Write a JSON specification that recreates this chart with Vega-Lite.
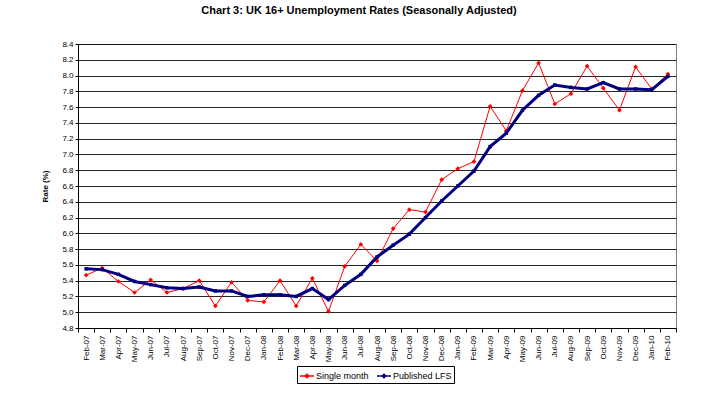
{
  "$schema": "https://vega.github.io/schema/vega-lite/v6.json",
  "width": 598,
  "height": 284,
  "autosize": {"type": "none"},
  "padding": {"left": 78, "top": 44, "right": 42, "bottom": 69},
  "background": "white",
  "title": {
    "text": "Chart 3: UK 16+ Unemployment Rates (Seasonally Adjusted)",
    "font": "Liberation Sans",
    "fontSize": 11,
    "fontWeight": "bold",
    "color": "#000000",
    "anchor": "middle",
    "dx": -18,
    "offset": 24
  },
  "config": {
    "font": "Liberation Sans",
    "view": {"stroke": "#808080", "strokeWidth": 1},
    "axis": {
      "labelFont": "Liberation Sans",
      "titleFont": "Liberation Sans",
      "labelColor": "#000000",
      "titleColor": "#000000",
      "domainColor": "#000000",
      "tickColor": "#000000"
    }
  },
  "data": {
    "values": [
      {"month": "Feb-07", "series": "Single month", "rate": 5.47},
      {"month": "Mar-07", "series": "Single month", "rate": 5.56},
      {"month": "Apr-07", "series": "Single month", "rate": 5.39},
      {"month": "May-07", "series": "Single month", "rate": 5.25},
      {"month": "Jun-07", "series": "Single month", "rate": 5.41},
      {"month": "Jul-07", "series": "Single month", "rate": 5.25},
      {"month": "Aug-07", "series": "Single month", "rate": 5.30},
      {"month": "Sep-07", "series": "Single month", "rate": 5.40},
      {"month": "Oct-07", "series": "Single month", "rate": 5.08},
      {"month": "Nov-07", "series": "Single month", "rate": 5.38},
      {"month": "Dec-07", "series": "Single month", "rate": 5.15},
      {"month": "Jan-08", "series": "Single month", "rate": 5.13},
      {"month": "Feb-08", "series": "Single month", "rate": 5.40},
      {"month": "Mar-08", "series": "Single month", "rate": 5.08},
      {"month": "Apr-08", "series": "Single month", "rate": 5.43},
      {"month": "May-08", "series": "Single month", "rate": 5.01},
      {"month": "Jun-08", "series": "Single month", "rate": 5.58},
      {"month": "Jul-08", "series": "Single month", "rate": 5.86},
      {"month": "Aug-08", "series": "Single month", "rate": 5.65},
      {"month": "Sep-08", "series": "Single month", "rate": 6.06},
      {"month": "Oct-08", "series": "Single month", "rate": 6.30},
      {"month": "Nov-08", "series": "Single month", "rate": 6.27},
      {"month": "Dec-08", "series": "Single month", "rate": 6.68},
      {"month": "Jan-09", "series": "Single month", "rate": 6.82},
      {"month": "Feb-09", "series": "Single month", "rate": 6.91},
      {"month": "Mar-09", "series": "Single month", "rate": 7.61},
      {"month": "Apr-09", "series": "Single month", "rate": 7.30},
      {"month": "May-09", "series": "Single month", "rate": 7.81},
      {"month": "Jun-09", "series": "Single month", "rate": 8.16},
      {"month": "Jul-09", "series": "Single month", "rate": 7.64},
      {"month": "Aug-09", "series": "Single month", "rate": 7.77},
      {"month": "Sep-09", "series": "Single month", "rate": 8.12},
      {"month": "Oct-09", "series": "Single month", "rate": 7.84},
      {"month": "Nov-09", "series": "Single month", "rate": 7.56},
      {"month": "Dec-09", "series": "Single month", "rate": 8.11},
      {"month": "Jan-10", "series": "Single month", "rate": 7.83},
      {"month": "Feb-10", "series": "Single month", "rate": 8.02},
      {"month": "Feb-07", "series": "Published LFS", "rate": 5.55},
      {"month": "Mar-07", "series": "Published LFS", "rate": 5.54},
      {"month": "Apr-07", "series": "Published LFS", "rate": 5.48},
      {"month": "May-07", "series": "Published LFS", "rate": 5.39},
      {"month": "Jun-07", "series": "Published LFS", "rate": 5.35},
      {"month": "Jul-07", "series": "Published LFS", "rate": 5.31},
      {"month": "Aug-07", "series": "Published LFS", "rate": 5.30},
      {"month": "Sep-07", "series": "Published LFS", "rate": 5.32},
      {"month": "Oct-07", "series": "Published LFS", "rate": 5.27},
      {"month": "Nov-07", "series": "Published LFS", "rate": 5.27},
      {"month": "Dec-07", "series": "Published LFS", "rate": 5.20},
      {"month": "Jan-08", "series": "Published LFS", "rate": 5.22},
      {"month": "Feb-08", "series": "Published LFS", "rate": 5.22},
      {"month": "Mar-08", "series": "Published LFS", "rate": 5.20},
      {"month": "Apr-08", "series": "Published LFS", "rate": 5.30},
      {"month": "May-08", "series": "Published LFS", "rate": 5.16},
      {"month": "Jun-08", "series": "Published LFS", "rate": 5.34},
      {"month": "Jul-08", "series": "Published LFS", "rate": 5.48},
      {"month": "Aug-08", "series": "Published LFS", "rate": 5.70},
      {"month": "Sep-08", "series": "Published LFS", "rate": 5.85},
      {"month": "Oct-08", "series": "Published LFS", "rate": 5.99},
      {"month": "Nov-08", "series": "Published LFS", "rate": 6.20},
      {"month": "Dec-08", "series": "Published LFS", "rate": 6.41},
      {"month": "Jan-09", "series": "Published LFS", "rate": 6.60},
      {"month": "Feb-09", "series": "Published LFS", "rate": 6.79},
      {"month": "Mar-09", "series": "Published LFS", "rate": 7.10},
      {"month": "Apr-09", "series": "Published LFS", "rate": 7.27},
      {"month": "May-09", "series": "Published LFS", "rate": 7.56},
      {"month": "Jun-09", "series": "Published LFS", "rate": 7.75},
      {"month": "Jul-09", "series": "Published LFS", "rate": 7.88},
      {"month": "Aug-09", "series": "Published LFS", "rate": 7.85},
      {"month": "Sep-09", "series": "Published LFS", "rate": 7.83},
      {"month": "Oct-09", "series": "Published LFS", "rate": 7.91},
      {"month": "Nov-09", "series": "Published LFS", "rate": 7.83},
      {"month": "Dec-09", "series": "Published LFS", "rate": 7.83},
      {"month": "Jan-10", "series": "Published LFS", "rate": 7.82},
      {"month": "Feb-10", "series": "Published LFS", "rate": 7.99}
    ]
  },
  "encoding": {
    "x": {
      "field": "month",
      "type": "ordinal",
      "sort": null,
      "title": null,
      "axis": {
        "labelAngle": -90,
        "labelFontSize": 8,
        "tickBand": "extent",
        "tickSize": 4,
        "labelPadding": 3,
        "domainColor": "#000000"
      }
    },
    "y": {
      "field": "rate",
      "type": "quantitative",
      "title": "Rate (%)",
      "scale": {"domain": [4.8, 8.4], "nice": false, "zero": false},
      "axis": {
        "values": [4.8, 5.0, 5.2, 5.4, 5.6, 5.8, 6.0, 6.2, 6.4, 6.6, 6.8, 7.0, 7.2, 7.4, 7.6, 7.8, 8.0, 8.2, 8.4],
        "format": ".1f",
        "labelFontSize": 8,
        "titleFontSize": 8,
        "titleFontWeight": "bold",
        "tickSize": 3,
        "labelPadding": 2,
        "titlePadding": 12,
        "grid": true,
        "gridColor": "#000000",
        "gridWidth": 1,
        "gridOpacity": 0.85
      }
    },
    "color": {
      "field": "series",
      "type": "nominal",
      "scale": {"domain": ["Single month", "Published LFS"], "range": ["#FF0000", "#000080"]},
      "legend": {
        "title": null,
        "orient": "none",
        "legendX": 219,
        "legendY": 322,
        "direction": "horizontal",
        "strokeColor": "#000000",
        "padding": 2,
        "labelFont": "Liberation Sans",
        "labelFontSize": 9,
        "labelColor": "#000000",
        "symbolType": "M-1,0H1M-0.25,0L0,-0.25L0.25,0L0,0.25Z",
        "symbolSize": 200,
        "symbolStrokeWidth": 1.5,
        "columnPadding": 4,
        "labelOffset": 1
      }
    }
  },
  "layer": [
    {
      "transform": [{"filter": "datum.series === 'Single month'"}],
      "mark": {"type": "line", "strokeWidth": 1}
    },
    {
      "transform": [{"filter": "datum.series === 'Single month'"}],
      "mark": {"type": "point", "shape": "diamond", "filled": true, "size": 22, "opacity": 1}
    },
    {
      "transform": [{"filter": "datum.series === 'Published LFS'"}],
      "mark": {"type": "line", "strokeWidth": 3}
    },
    {
      "transform": [{"filter": "datum.series === 'Published LFS'"}],
      "mark": {"type": "point", "shape": "square", "filled": true, "size": 12, "opacity": 1}
    }
  ]
}
